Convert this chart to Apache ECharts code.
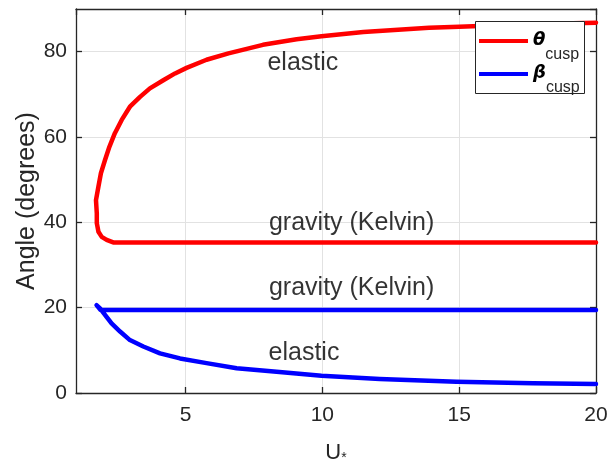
<!DOCTYPE html>
<html>
<head>
<meta charset="utf-8">
<script src="https://cdn.jsdelivr.net/npm/echarts@6/dist/echarts.min.js"></script>
<style>
  html, body { margin: 0; padding: 0; background: #fff; }
  #chart { width: 608px; height: 460px; }
</style>
</head>
<body>
<div id="chart"></div>
<script>
// theta_cusp traced as one curve: gravity (Kelvin) branch, then round the turn onto the elastic branch
const thetaU     = [20, 2.36, 2.12, 1.94, 1.82, 1.76, 1.76, 1.73, 1.82, 1.91, 2.06, 2.22, 2.42, 2.67, 2.97, 3.34, 3.70, 4.19, 4.62, 5.04, 5.77, 6.57, 7.83, 9.06, 9.97, 11.5, 13.9, 15.0, 17.5, 20];
const thetaAngle = [35.26, 35.3, 35.9, 36.6, 37.8, 39.8, 42.1, 45.2, 48.4, 51.5, 54.6, 57.7, 60.9, 64.0, 67.1, 69.4, 71.4, 73.3, 74.9, 76.2, 78.1, 79.6, 81.6, 82.9, 83.6, 84.6, 85.6, 85.85, 86.4, 86.8];

// beta_cusp: Kelvin wedge line, then the elastic branch falling off with U*
const betaU     = [20, 1.9, 1.75, 1.88, 2.06, 2.30, 2.61, 2.97, 3.46, 4.07, 4.80, 5.77, 6.87, 8.33, 9.97, 12.1, 14.9, 17.7, 20];
const betaAngle = [19.47, 19.47, 20.6, 19.85, 18.3, 16.3, 14.4, 12.4, 10.9, 9.3, 8.1, 7.0, 5.8, 5.0, 4.05, 3.3, 2.65, 2.27, 2.1];

// branch annotations
const noteText  = ['elastic', 'gravity (Kelvin)', 'gravity (Kelvin)', 'elastic'];
const noteU     = [9.29, 11.07, 11.07, 9.33];
const noteAngle = [77.3, 39.8, 24.6, 9.4];

const seriesNames = ['θcusp', 'βcusp'];

const FONT = "'Liberation Sans', Arial, Helvetica, sans-serif";
const AXIS = '#262626';
const GRIDC = '#e2e2e2';

const zip = (xs, ys) => xs.map((x, i) => [x, ys[i]]);

const axisLine = { onZero: false, lineStyle: { color: AXIS, width: 1.3 } };
const axisTick = { inside: true, length: 6, lineStyle: { color: AXIS, width: 1.3 } };

// Greek symbol with its "cusp" subscript dropped below
const legendRich = {
  g: { fontFamily: 'DejaVu Sans', fontSize: 18, fontWeight: 'bold', fontStyle: 'italic',
       color: '#000', lineHeight: 20, padding: [12, 0, 14, 0] },
  s: { fontFamily: FONT, fontSize: 16, color: '#262626', lineHeight: 18,
       padding: [28, 0, 0, 0] }
};
const legendFmt = name => '{g|' + name.charAt(0) + '}{s|' + name.slice(1) + '}';
const legendBase = {
  orient: 'vertical', left: 479, padding: 0, itemWidth: 49, itemHeight: 4,
  icon: 'rect', formatter: legendFmt, textStyle: { rich: legendRich }, z: 20,
  selectedMode: false
};

const chart = echarts.init(document.getElementById('chart'), null, { renderer: 'canvas' });
chart.setOption({
  animation: false,
  backgroundColor: '#fff',
  grid: { left: 76, right: 12, top: 9, bottom: 67, containLabel: false, outerBoundsMode: 'none' },
  xAxis: [
    {
      type: 'value', min: 1, max: 20, splitNumber: 4, position: 'bottom',
      name: '{u|U}{s|*}', nameLocation: 'middle', nameGap: 48,
      nameTextStyle: { rich: {
        u: { fontFamily: FONT, fontSize: 22, color: AXIS },
        s: { fontFamily: FONT, fontSize: 14, color: AXIS, padding: [10, 0, 0, 0] }
      } },
      axisLine: axisLine, axisTick: axisTick,
      axisLabel: { showMinLabel: false, color: AXIS, fontFamily: FONT, fontSize: 21, margin: 12 },
      splitLine: { show: true, lineStyle: { color: GRIDC, width: 1 } }
    },
    {
      type: 'value', min: 1, max: 20, splitNumber: 4, position: 'top',
      axisLine: axisLine, axisTick: axisTick,
      axisLabel: { show: false }, splitLine: { show: false }
    }
  ],
  yAxis: [
    {
      type: 'value', min: 0, max: 90, interval: 20, position: 'left',
      name: 'Angle (degrees)', nameLocation: 'middle', nameGap: 36, nameMoveOverlap: false,
      nameTextStyle: { fontFamily: FONT, fontSize: 25, color: AXIS },
      axisLine: axisLine, axisTick: axisTick,
      axisLabel: { showMaxLabel: false, color: AXIS, fontFamily: FONT, fontSize: 21, margin: 9 },
      splitLine: { show: true, lineStyle: { color: GRIDC, width: 1 } }
    },
    {
      type: 'value', min: 0, max: 90, interval: 20, position: 'right',
      axisLine: axisLine, axisTick: axisTick,
      axisLabel: { show: false }, splitLine: { show: false }
    }
  ],
  legend: [
    Object.assign({ data: [seriesNames[0]], top: 19 }, legendBase),
    Object.assign({ data: [seriesNames[1]], top: 52 }, legendBase)
  ],
  graphic: {
    elements: [{
      type: 'rect', z: 10,
      shape: { x: 475.5, y: 21.5, width: 109, height: 72 },
      style: { fill: '#fff', stroke: AXIS, lineWidth: 1 }
    }]
  },
  series: [
    {
      name: seriesNames[0], type: 'line', data: zip(thetaU, thetaAngle),
      showSymbol: false, symbol: 'none', color: '#ff0000',
      lineStyle: { color: '#ff0000', width: 4.5, join: 'round', cap: 'round' }
    },
    {
      name: seriesNames[1], type: 'line', data: zip(betaU, betaAngle),
      showSymbol: false, symbol: 'none', color: '#0000ff',
      lineStyle: { color: '#0000ff', width: 4.5, join: 'round', cap: 'round' }
    },
    {
      name: 'notes', type: 'scatter', symbolSize: 0, z: 5, silent: true,
      data: noteText.map((t, i) => ({ name: t, value: [noteU[i], noteAngle[i]] })),
      label: {
        show: true, position: 'inside', formatter: p => p.name,
        fontFamily: FONT, fontSize: 25, color: '#000'
      }
    }
  ]
});
</script>
</body>
</html>
